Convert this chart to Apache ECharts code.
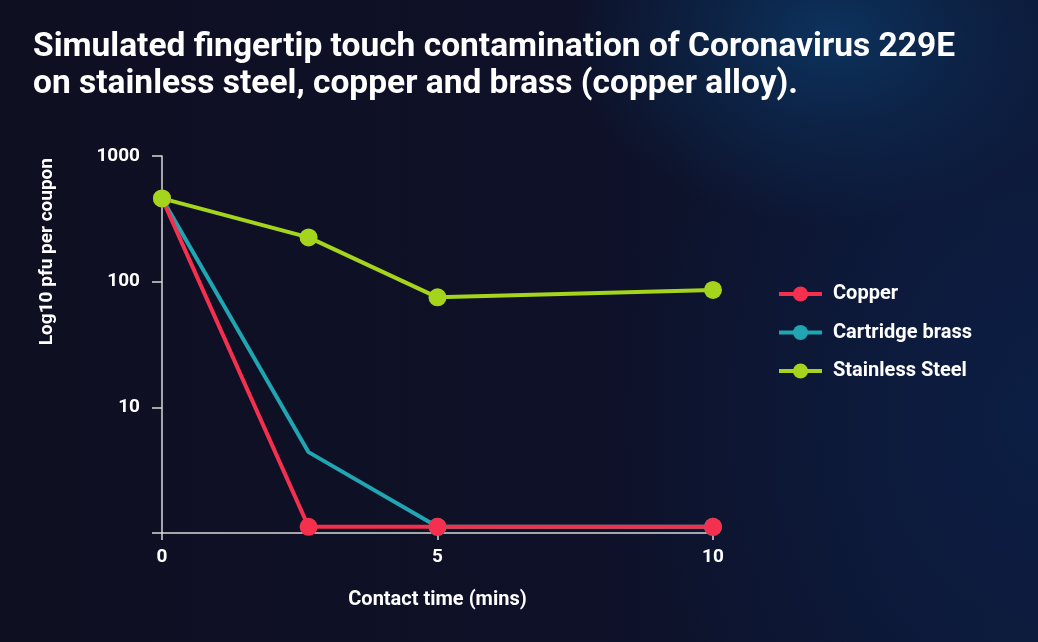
<!DOCTYPE html>
<html>
<head>
<meta charset="utf-8">
<script src="https://cdn.jsdelivr.net/npm/echarts@6/dist/echarts.min.js"></script>
<style>
  html, body { margin: 0; padding: 0; }
  body {
    width: 1038px; height: 642px; overflow: hidden;
    background:
      radial-gradient(ellipse 260px 190px at 830px 35px, rgba(12,52,96,0.95) 0%, rgba(12,45,85,0.6) 45%, rgba(12,30,65,0) 100%),
      radial-gradient(ellipse 420px 520px at 1038px 420px, rgba(12,32,72,0.8) 0%, rgba(12,28,62,0) 100%),
      linear-gradient(90deg, #0f0f22 0%, #0e1128 55%, #0d1633 100%);
  }
  #chart { width: 1038px; height: 642px; }
</style>
</head>
<body>
<div id="chart"></div>
<script>
const titleText = 'Simulated fingertip touch contamination of Coronavirus 229E\non stainless steel, copper and brass (copper alloy).';
const xAxisName = 'Contact time (mins)';
const yAxisName = 'Log10 pfu per coupon';
const seriesNames = ['Copper', 'Cartridge brass', 'Stainless Steel'];
const contactTimes = [0, 2.66, 5, 10];
const copperValues = [460, 1.12, 1.12, 1.12];
const brassValues = [460, 4.4, 1.12, 1.12];
const steelValues = [460, 225, 75, 86];
const yTickValues = [1, 10, 100, 1000];
const xTickValues = [0, 5, 10];

const colors = { 'Copper': '#f5304f', 'Cartridge brass': '#1fa6b2', 'Stainless Steel': '#a4d41c' };
const FONT = 'Roboto, "Noto Sans", sans-serif';

function pairs(vals, hideIdx) {
  return contactTimes.map((t, i) => {
    const item = { value: [t, vals[i]] };
    if (hideIdx && hideIdx.indexOf(i) >= 0) item.symbol = 'none';
    return item;
  });
}

function lineSeries(name, vals, hideIdx) {
  return {
    name: name, type: 'line', data: pairs(vals, hideIdx),
    symbol: 'circle', symbolSize: 18, showAllSymbol: true,
    lineStyle: { width: 4, color: colors[name] },
    itemStyle: { color: colors[name] },
    emphasis: { disabled: true },
    animation: false
  };
}

const chart = echarts.init(document.getElementById('chart'), null, { renderer: 'canvas' });
chart.setOption({
  backgroundColor: 'transparent',
  animation: false,
  title: {
    text: titleText, left: 33, top: 29, padding: 0,
    textStyle: { color: '#ffffff', fontFamily: FONT, fontWeight: 'bold', fontSize: 33.5, lineHeight: 37 }
  },
  legend: {
    data: seriesNames, orient: 'vertical', left: 777, top: 284, padding: 0,
    itemWidth: 43, itemHeight: 19, itemGap: 18.5,
    lineStyle: { width: 4 },
    textStyle: { color: '#ffffff', fontFamily: FONT, fontWeight: 'bold', fontSize: 20, padding: [0, 0, 0, 6] },
    selectedMode: false
  },
  graphic: [{
    type: 'text', left: 38, top: 158,
    rotation: Math.PI / 2,
    style: { text: yAxisName, fill: '#ffffff', font: 'bold 19px Roboto, "Noto Sans", sans-serif' }
  }],
  grid: { left: 162, right: 325, top: 156, bottom: 109, containLabel: false },
  xAxis: {
    type: 'value', min: 0, max: 10, interval: 5,
    name: xAxisName, nameLocation: 'middle', nameGap: 57,
    nameTextStyle: { color: '#ffffff', fontFamily: FONT, fontWeight: 'bold', fontSize: 20 },
    axisLine: { show: true, lineStyle: { color: '#d8d8d8', width: 1.5 } },
    axisTick: { show: true, length: 7, lineStyle: { color: '#d8d8d8', width: 1.5 } },
    axisLabel: { color: '#ffffff', fontFamily: FONT, fontWeight: 'bold', fontSize: 19, margin: 15,
      formatter: v => xTickValues.indexOf(v) >= 0 ? String(v) : '' },
    splitLine: { show: false }
  },
  yAxis: {
    type: 'log', logBase: 10, min: yTickValues[0], max: yTickValues[yTickValues.length - 1],
    axisLine: { show: true, lineStyle: { color: '#d8d8d8', width: 1.5 } },
    axisTick: { show: true, length: 10, lineStyle: { color: '#d8d8d8', width: 1.5 } },
    axisLabel: { color: '#ffffff', fontFamily: FONT, fontWeight: 'bold', fontSize: 19, margin: 22,
      formatter: v => (v === 1 ? '' : String(Math.round(v))) },
    splitLine: { show: false }
  },
  series: [
    lineSeries('Cartridge brass', brassValues, [1]),
    lineSeries('Copper', copperValues),
    lineSeries('Stainless Steel', steelValues)
  ]
});
</script>
</body>
</html>
